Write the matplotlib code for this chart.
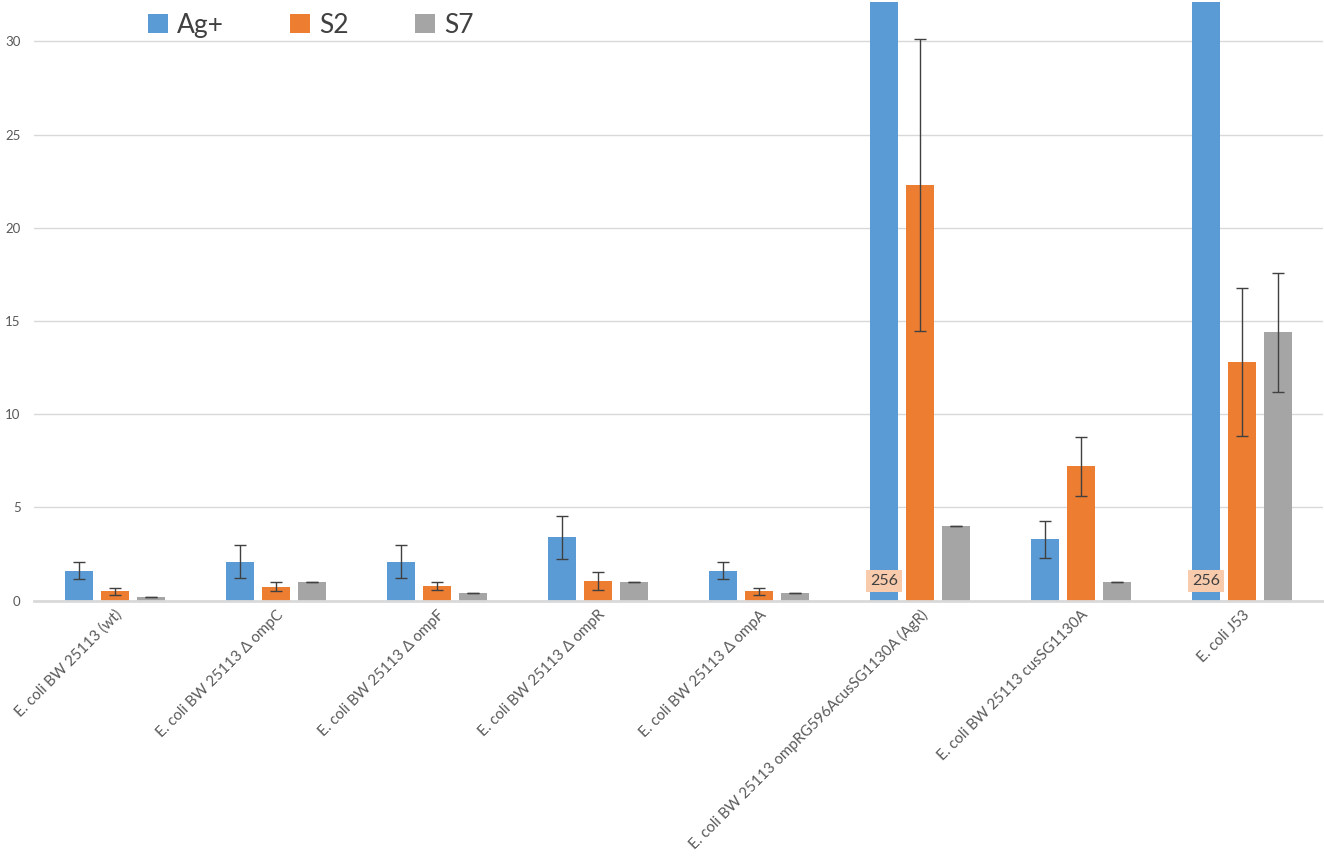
import numpy as np
import matplotlib
matplotlib.use('Agg')
import matplotlib.pyplot as plt

plt.rcParams['font.family'] = ['Lato', 'DejaVu Sans']

# strains (x categories)
strains = [
    'E. coli BW 25113 (wt)',
    'E. coli BW 25113 \u0394 ompC',
    'E. coli BW 25113 \u0394 ompF',
    'E. coli BW 25113 \u0394 ompR',
    'E. coli BW 25113 \u0394 ompA',
    'E. coli BW 25113 ompRG596AcusSG1130A (AgR)',
    'E. coli BW 25113 cusSG1130A',
    'E. coli J53',
]

series_names = ['Ag+', 'S2', 'S7']

ag_vals = [1.6, 2.1, 2.1, 3.4, 1.6, 256, 3.3, 256]
ag_err = [0.45, 0.9, 0.9, 1.15, 0.45, 0, 1.0, 0]

s2_vals = [0.5, 0.75, 0.8, 1.05, 0.5, 22.3, 7.2, 12.8]
s2_err = [0.2, 0.25, 0.2, 0.5, 0.2, 7.85, 1.6, 3.95]

s7_vals = [0.2, 1.0, 0.4, 1.0, 0.4, 4.0, 1.0, 14.4]
s7_err = [0, 0, 0, 0, 0, 0, 0, 3.2]

# bars whose value is off scale get a label
clipped_label = '256'

colors = ['#5B9BD5', '#ED7D31', '#A5A5A5']

fig = plt.figure(figsize=(13.24, 8.6), dpi=100)
ax = fig.add_axes([0.026, 0.3015, 0.973, 0.696])

x = np.arange(len(strains))
step = 0.224
width = 0.174
all_vals = [ag_vals, s2_vals, s7_vals]
all_errs = [ag_err, s2_err, s7_err]

for i, (vals, errs) in enumerate(zip(all_vals, all_errs)):
    pos = x + (i - 1) * step
    ax.bar(pos, vals, width, color=colors[i], label=series_names[i], zorder=2)
    ax.errorbar(pos, vals, yerr=errs, fmt='none', ecolor='#404040',
                elinewidth=1.0, capsize=4, capthick=1.0, zorder=3)

ymax = 32.1
ax.set_ylim(0, ymax)
ax.set_xlim(-0.5, len(strains) - 0.5)

# value labels for the off-scale bars
for xi, v in zip(x, ag_vals):
    if v > ymax:
        ax.text(xi - step, 1.05, clipped_label, ha='center', va='center',
                fontsize=11.5, color='#404040', zorder=4,
                bbox=dict(boxstyle='square,pad=0.25', fc='#F8CBAD', ec='none'))

ax.set_yticks([0, 5, 10, 15, 20, 25, 30])
ax.yaxis.grid(True, color='#D9D9D9', linewidth=1.0, zorder=0)
ax.set_axisbelow(True)
for s in ['left', 'right', 'top']:
    ax.spines[s].set_visible(False)
ax.spines['bottom'].set_color('#D9D9D9')
ax.spines['bottom'].set_linewidth(2.0)
ax.spines['bottom'].set_zorder(5)
ax.tick_params(axis='both', length=0, colors='#595959', labelsize=9.5)
ax.tick_params(axis='y', pad=10)

ax.set_xticks(x)
ax.set_xticklabels(strains, rotation=45, ha='right', va='top',
                   rotation_mode='anchor', fontsize=10.8, color='#595959')
ax.tick_params(axis='x', pad=5)

leg = ax.legend(loc='upper left', bbox_to_anchor=(0.07, 1.022), ncol=3,
                frameon=False, fontsize=19, handlelength=0.75,
                handleheight=0.75, handletextpad=0.35, columnspacing=2.5)
for t in leg.get_texts():
    t.set_color('#404040')

fig.savefig('out.png', dpi=100)
